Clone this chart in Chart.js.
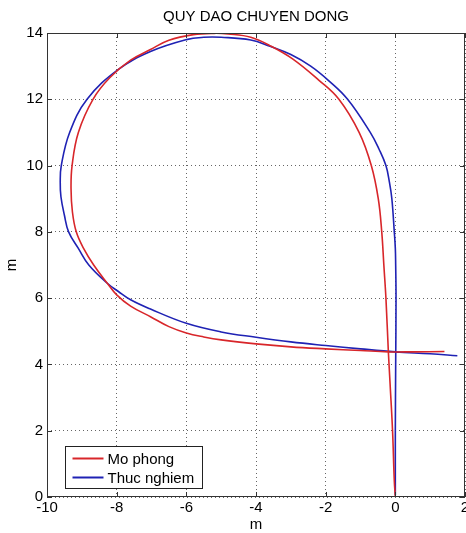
<!DOCTYPE html>
<html>
<head>
<meta charset="utf-8">
<title>QUY DAO CHUYEN DONG</title>
<script src="https://cdn.jsdelivr.net/npm/chart.js@4/dist/chart.umd.min.js"></script>
<style>
  body { margin: 0; background: #fff; }
  #chart { display: block; }
</style>
</head>
<body>
<canvas id="chart" width="466" height="533"></canvas>
<script>
// Mo phong (simulation) trajectory, in metres
const moPhongX = [0.0, -0.03, -0.08, -0.15, -0.2, -0.27, -0.33, -0.39, -0.49, -0.69, -1.04, -1.62, -2.2, -2.95, -3.6, -4.15, -4.8, -5.2, -5.8, -6.5, -7.03, -7.6, -8.2, -8.68, -9.1, -9.28, -9.31, -9.27, -9.16, -8.95, -8.66, -8.27, -8.0, -7.6, -7.03, -6.5, -6.0, -5.5, -5.0, -4.0, -3.0, -2.0, -1.0, -0.2, 0.5, 1.41];
const moPhongY = [0.0, 0.5, 2.0, 3.4, 4.38, 6.0, 7.0, 8.0, 9.0, 10.0, 11.0, 12.0, 12.58, 13.22, 13.62, 13.87, 13.97, 13.99, 13.95, 13.78, 13.5, 13.18, 12.65, 12.0, 11.0, 10.0, 9.3, 8.6, 8.0, 7.5, 7.0, 6.45, 6.1, 5.76, 5.44, 5.14, 4.95, 4.83, 4.74, 4.62, 4.53, 4.47, 4.42, 4.38, 4.38, 4.39];

// Thuc nghiem (experiment) trajectory
const thucNghiemX = [0.0, 0.0, 0.01, 0.02, 0.01, 0.0, -0.03, -0.1, -0.17, -0.27, -0.47, -0.72, -1.37, -1.9, -2.43, -3.0, -3.6, -4.15, -5.0, -5.5, -6.0, -7.03, -7.95, -8.85, -9.35, -9.59, -9.62, -9.6, -9.5, -9.38, -9.1, -8.8, -8.27, -7.95, -7.6, -7.03, -6.0, -5.0, -4.0, -3.0, -2.0, -1.0, 0.0, 1.0, 1.78];
const thucNghiemY = [0.05, 2.0, 4.0, 6.0, 7.0, 7.5, 8.0, 9.0, 9.5, 10.0, 10.5, 11.0, 12.0, 12.55, 13.0, 13.35, 13.6, 13.79, 13.87, 13.87, 13.8, 13.44, 12.9, 12.0, 11.0, 10.0, 9.5, 9.06, 8.5, 8.0, 7.5, 7.0, 6.45, 6.2, 5.95, 5.67, 5.24, 4.98, 4.82, 4.68, 4.57, 4.47, 4.38, 4.32, 4.26];

const seriesNames = ['Mo phong', 'Thuc nghiem'];
const xTicks = [-10, -8, -6, -4, -2, 0, 2];
const yTicks = [0, 2, 4, 6, 8, 10, 12, 14];

const FONT = 'Liberation Sans, Arial, Helvetica, sans-serif';

function toPoints(xs, ys) {
  return xs.map((x, i) => ({ x: x, y: ys[i] }));
}

// solid axes box with inward tick marks, matlab style
const boxPlugin = {
  id: 'matlabBox',
  afterDraw(chart) {
    const ctx = chart.ctx;
    const a = chart.chartArea;
    const sx = chart.scales.x;
    const sy = chart.scales.y;
    ctx.save();
    ctx.strokeStyle = '#333';
    ctx.lineWidth = 1;
    ctx.strokeRect(a.left + 0.5, a.top + 0.5, a.right - a.left - 1, a.bottom - a.top - 1);
    ctx.beginPath();
    xTicks.forEach((v) => {
      const px = Math.round(sx.getPixelForValue(v)) + 0.5;
      ctx.moveTo(px, a.bottom);
      ctx.lineTo(px, a.bottom - 5);
      ctx.moveTo(px, a.top);
      ctx.lineTo(px, a.top + 5);
    });
    yTicks.forEach((v) => {
      const py = Math.round(sy.getPixelForValue(v)) + 0.5;
      ctx.moveTo(a.left, py);
      ctx.lineTo(a.left + 5, py);
      ctx.moveTo(a.right, py);
      ctx.lineTo(a.right - 5, py);
    });
    ctx.stroke();
    ctx.restore();
  }
};

// legend box in the lower left corner of the axes
const legendPlugin = {
  id: 'boxLegend',
  afterDraw(chart) {
    const ctx = chart.ctx;
    const a = chart.chartArea;
    const left = a.left + 18.5;
    const top = a.bottom - 50.5;
    const w = 137;
    const h = 42;
    ctx.save();
    ctx.fillStyle = '#fff';
    ctx.fillRect(left, top, w, h);
    ctx.strokeStyle = '#222';
    ctx.lineWidth = 1;
    ctx.strokeRect(left, top, w, h);
    ctx.font = '15px ' + FONT;
    ctx.textBaseline = 'middle';
    ctx.textAlign = 'left';
    chart.data.datasets.forEach((ds, i) => {
      const yy = top + 12 + i * 19;
      ctx.strokeStyle = ds.borderColor;
      ctx.lineWidth = 2;
      ctx.beginPath();
      ctx.moveTo(left + 7, yy);
      ctx.lineTo(left + 38, yy);
      ctx.stroke();
      ctx.fillStyle = '#000';
      ctx.fillText(ds.label, left + 42, yy + 1);
    });
    ctx.restore();
  }
};

const data = {
  datasets: [
    {
      label: seriesNames[0],
      data: toPoints(moPhongX, moPhongY),
      borderColor: '#d8262a',
      borderWidth: 1.6,
      fill: false,
      pointRadius: 0,
      tension: 0.4
    },
    {
      label: seriesNames[1],
      data: toPoints(thucNghiemX, thucNghiemY),
      borderColor: '#1f22b4',
      borderWidth: 1.6,
      fill: false,
      pointRadius: 0,
      tension: 0.4
    }
  ]
};

const config = {
  type: 'line',
  data: data,
  plugins: [boxPlugin, legendPlugin],
  options: {
    responsive: false,
    animation: false,
    devicePixelRatio: 1,
    layout: { padding: { left: 0, right: 1, top: 0, bottom: 0 } },
    plugins: {
      legend: { display: false },
      tooltip: { enabled: false },
      title: {
        display: true,
        text: 'QUY DAO CHUYEN DONG',
        fullSize: false,
        color: '#000',
        font: { family: FONT, size: 15, weight: 'normal', lineHeight: 1.2 },
        padding: { top: 8, bottom: 7 }
      }
    },
    scales: {
      x: {
        type: 'linear',
        min: -10,
        max: 2,
        afterBuildTicks(scale) {
          scale.ticks = xTicks.map((v) => ({ value: v }));
        },
        afterFit(scale) {
          scale.height = 36;
          scale.paddingLeft = 0;
          scale.paddingRight = 0;
        },
        ticks: {
          color: '#000',
          padding: 2,
          maxRotation: 0,
          autoSkip: false,
          font: { family: FONT, size: 15 }
        },
        grid: { color: '#666', lineWidth: 1, drawTicks: false },
        border: { display: false, dash: [1, 3] },
        title: {
          display: true,
          text: 'm',
          color: '#000',
          font: { family: FONT, size: 15, lineHeight: 1.07 },
          padding: { top: 0, bottom: 0 }
        }
      },
      y: {
        type: 'linear',
        min: 0,
        max: 14,
        afterBuildTicks(scale) {
          scale.ticks = yTicks.map((v) => ({ value: v }));
        },
        afterFit(scale) {
          scale.width = 47;
          scale.paddingTop = 0;
          scale.paddingBottom = 0;
        },
        ticks: {
          color: '#000',
          padding: 4,
          autoSkip: false,
          font: { family: FONT, size: 15 }
        },
        grid: { color: '#666', lineWidth: 1, drawTicks: false },
        border: { display: false, dash: [1, 3] },
        title: {
          display: true,
          text: 'm',
          color: '#000',
          font: { family: FONT, size: 15, lineHeight: 1.2 },
          padding: { top: 3, bottom: 0 }
        }
      }
    }
  }
};

new Chart(document.getElementById('chart').getContext('2d'), config);
</script>
</body>
</html>
